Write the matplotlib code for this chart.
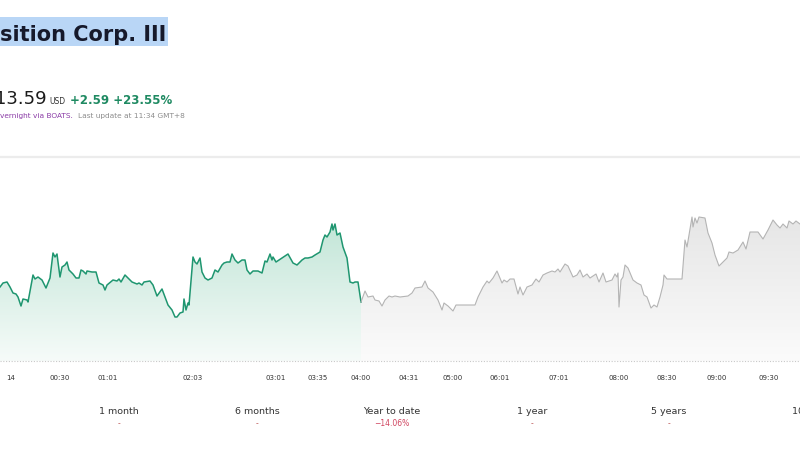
import numpy as np
import matplotlib
matplotlib.use("Agg")
import matplotlib.pyplot as plt
from matplotlib.patches import Rectangle
from matplotlib.colors import LinearSegmentedColormap

# ---------------- data ----------------
# session (positions on the ordinal time axis) and prices
t_session = [0, 3, 7, 10, 13, 16, 18, 21, 23, 27, 28, 33, 35, 38, 42, 46, 50, 53, 55, 57,
             58, 60, 62, 65, 67, 69, 73, 76, 79, 81, 83, 86, 87, 92, 96, 99, 103, 105, 107,
             113, 117, 119, 121, 125, 132, 137, 139, 142, 144, 150, 153, 157, 162, 165, 168,
             172, 175, 177, 180, 183, 184, 186, 188, 189, 193, 195, 197, 200, 202, 205, 208,
             212, 215, 218, 222, 224, 227, 230, 232, 235, 238, 242, 245, 247, 250, 253, 258,
             262, 265, 267, 270, 272, 273, 276, 282, 288, 293, 297, 302, 305, 308, 312, 315,
             320, 323, 325, 327, 330, 332, 333, 335, 337, 340, 343, 347, 350, 353, 355, 358, 361]
p_session = [13.89, 13.97, 13.99, 13.89, 13.77, 13.75, 13.69, 13.51, 13.65, 13.63, 13.59,
             14.13, 14.05, 14.09, 14.03, 13.87, 14.07, 14.57, 14.49, 14.55, 14.39, 14.09,
             14.29, 14.33, 14.39, 14.23, 14.15, 14.07, 14.07, 14.23, 14.21, 14.15, 14.21,
             14.19, 14.19, 13.97, 13.93, 13.83, 13.93, 14.03, 14.01, 14.05, 13.99, 14.13,
             13.99, 13.95, 13.97, 13.93, 13.99, 14.01, 13.93, 13.71, 13.85, 13.69, 13.53,
             13.43, 13.29, 13.29, 13.37, 13.39, 13.65, 13.43, 13.57, 13.53, 14.49, 14.39,
             14.35, 14.47, 14.19, 14.07, 14.03, 14.07, 14.23, 14.19, 14.33, 14.37, 14.39,
             14.39, 14.55, 14.43, 14.37, 14.43, 14.43, 14.23, 14.15, 14.21, 14.21, 14.17,
             14.41, 14.39, 14.55, 14.43, 14.49, 14.39, 14.47, 14.55, 14.37, 14.33, 14.43,
             14.47, 14.47, 14.49, 14.53, 14.59, 14.83, 14.93, 14.89, 14.99, 15.15, 15.03,
             15.15, 14.93, 14.97, 14.69, 14.47, 13.99, 13.97, 13.99, 13.99, 13.59]

t_overnight = [361, 365, 368, 373, 375, 379, 382, 385, 389, 392, 395, 400, 408, 412, 415,
               422, 425, 428, 433, 438, 442, 444, 448, 453, 456, 475, 478, 483, 487, 489,
               493, 497, 502, 504, 507, 510, 514, 518, 520, 523, 527, 532, 536, 539, 543,
               547, 552, 555, 558, 560, 565, 568, 573, 577, 580, 583, 587, 590, 596, 599,
               603, 606, 612, 615, 617, 618, 619, 621, 623, 625, 628, 633, 637, 641, 644,
               647, 651, 654, 657, 660, 663, 664, 667, 682, 685, 687, 692, 693, 695, 697,
               699, 705, 708, 712, 715, 719, 723, 727, 729, 733, 738, 743, 746, 750, 758,
               763, 768, 773, 777, 780, 783, 787, 789, 793, 796, 800]
p_overnight = [13.59, 13.81, 13.69, 13.71, 13.63, 13.61, 13.51, 13.63, 13.71, 13.69, 13.71,
               13.69, 13.71, 13.77, 13.87, 13.89, 14.01, 13.87, 13.79, 13.63, 13.43, 13.57,
               13.51, 13.41, 13.53, 13.53, 13.69, 13.89, 14.01, 13.97, 14.07, 14.21, 13.97,
               14.03, 13.99, 14.05, 14.05, 13.75, 13.89, 13.73, 13.89, 13.93, 14.05, 13.99,
               14.13, 14.17, 14.21, 14.19, 14.25, 14.19, 14.35, 14.31, 14.09, 14.13, 14.23,
               14.09, 14.15, 14.07, 14.15, 13.99, 14.17, 13.99, 14.03, 14.15, 14.09, 14.17,
               13.49, 14.03, 14.09, 14.33, 14.27, 14.03, 13.97, 13.93, 13.73, 13.69, 13.47,
               13.53, 13.49, 13.69, 13.93, 14.13, 14.05, 14.05, 14.83, 14.69, 15.29, 15.09,
               15.27, 15.17, 15.29, 15.27, 14.97, 14.77, 14.53, 14.31, 14.39, 14.47, 14.59,
               14.57, 14.63, 14.79, 14.65, 14.99, 14.99, 14.85, 15.03, 15.23, 15.13, 15.07,
               15.15, 15.07, 15.21, 15.15, 15.21, 15.15]

tick_pos = [11, 60, 108, 193, 276, 318, 361, 409, 453, 500, 559, 619, 667, 717, 769]
tick_labels = ["14", "00:30", "01:01", "02:03", "03:01", "03:35", "04:00", "04:31",
               "05:00", "06:01", "07:01", "08:00", "08:30", "09:00", "09:30"]

perf_labels = ["1 month", "6 months", "Year to date", "1 year", "5 years", "10 years"]
perf_values = ["-", "-", "\u221214.06%", "-", "-", ""]

y_low, y_high = 12.41, 16.43

# ---------------- figure ----------------
W, H = 800, 450
fig = plt.figure(figsize=(8, 4.5), dpi=100)
fig.patch.set_facecolor("white")

def fx(px):
    return px / W

def fy(py):
    return 1 - py / H

# header
fig.patches.append(Rectangle((0, fy(46)), fx(168), 29 / H, transform=fig.transFigure,
                             facecolor="#b9d6f6", edgecolor="none", zorder=0))
fig.text(fx(0), fy(41), "sition Corp. III", fontsize=15, fontweight="bold",
         color="#16192b", ha="left", va="baseline", family="DejaVu Sans")

fig.text(fx(47), fy(104), "13.59", fontsize=13, color="#1b1b1b", ha="right", va="baseline")
fig.text(fx(49), fy(104), "USD", fontsize=5.5, color="#333333", ha="left", va="baseline")
fig.text(fx(70), fy(104), "+2.59 +23.55%", fontsize=8.5, fontweight="bold",
         color="#1f8a62", ha="left", va="baseline")
fig.text(fx(0), fy(118), "vernight via BOATS.", fontsize=5.3, color="#8a3aa6",
         ha="left", va="baseline")
fig.text(fx(78), fy(118), "Last update at 11:34 GMT+8", fontsize=5.3, color="#8c8c8c",
         ha="left", va="baseline")

# separator
fig.add_artist(plt.Line2D([0, 1], [fy(157), fy(157)], transform=fig.transFigure,
                          color="#ececec", lw=1.6))

# chart axes
ax_top, ax_bot = 160, 361
ax = fig.add_axes([0, fy(ax_bot), 1, (ax_bot - ax_top) / H])
ax.set_xlim(0, 800)
ax.set_ylim(y_low, y_high)
for s in ax.spines.values():
    s.set_visible(False)
ax.set_yticks([])

def grad_fill(x, y, c_top, c_bot, ymax):
    cmap = LinearSegmentedColormap.from_list("g", [c_bot, c_top])
    grad = np.linspace(0, 1, 256).reshape(-1, 1)
    im = ax.imshow(grad, cmap=cmap, aspect="auto", origin="lower",
                   extent=[min(x), max(x), y_low, ymax], zorder=1)
    poly = ax.fill_between(x, y, y_low, facecolor="none", edgecolor="none")
    path = poly.get_paths()[0]
    im.set_clip_path(path, transform=ax.transData)

grad_fill(t_session, p_session, "#c3e6d8", "#f6fbf9", max(p_session))
grad_fill(t_overnight, p_overnight, "#e6e6e6", "#fbfbfb", max(p_overnight))

ax.plot(t_session, p_session, color="#1f9670", lw=1.1, zorder=3)
ax.plot(t_overnight, p_overnight, color="#b4b4b4", lw=0.8, zorder=3)
ax.axhline(y_low, color="#c8c8c8", lw=0.8, ls=(0, (1, 1.5)), zorder=4, clip_on=False)

ax.set_xticks(tick_pos)
ax.set_xticklabels(tick_labels, fontsize=5, color="#333333",
                   family=["Liberation Sans Narrow", "DejaVu Sans"])
ax.tick_params(axis="x", length=0, pad=10)

# performance row
perf_x = [119, 257, 392, 532, 669, 792]
for i, (lab, val) in enumerate(zip(perf_labels, perf_values)):
    ha = "left" if i == len(perf_labels) - 1 else "center"
    fig.text(fx(perf_x[i]), fy(414), lab, fontsize=6.8, color="#333333", ha=ha,
             va="baseline", family=["Liberation Sans Narrow", "DejaVu Sans"])
    if val:
        col = "#d0445f" if val != "-" else "#c06060"
        fig.text(fx(perf_x[i]), fy(426), val, fontsize=5.5, color=col, ha=ha,
                 va="baseline", family=["Liberation Sans Narrow", "DejaVu Sans"])

fig.savefig("out.png", dpi=100, facecolor="white")
